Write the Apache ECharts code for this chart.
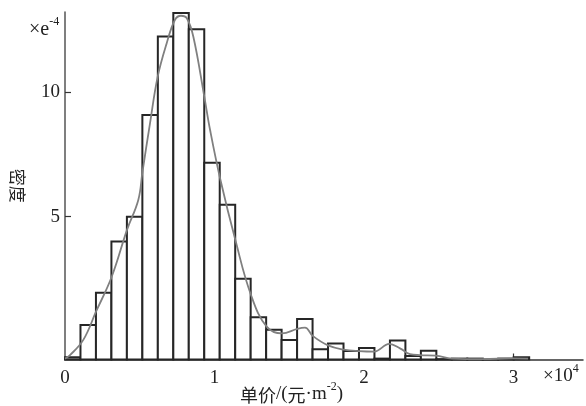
<!DOCTYPE html>
<html>
<head>
<meta charset="utf-8">
<script src="https://cdn.jsdelivr.net/npm/echarts@6/dist/echarts.min.js"></script>
<style>html,body{margin:0;padding:0;background:#fff}#c{width:586px;height:406px}</style>
</head>
<body>
<div id="c"></div>
<script>
// Histogram bins (unit price, yuan/m^2)
var binLeft  = [0,1035,2070,3105,4140,5175,6210,7245,8280,9315,10350,11385,12420,13455,14490,15525,16560,17595,18630,19665,20700,21735,22770,23805,24840,25875,26910,27945,28980,30015];
var binRight = [1035,2070,3105,4140,5175,6210,7245,8280,9315,10350,11385,12420,13455,14490,15525,16560,17595,18630,19665,20700,21735,22770,23805,24840,25875,26910,27945,28980,30015,31050];
// Bar tops read against the y axis (×e-4)
var barTop = [-0.64,0.66,1.95,4.00,4.99,9.07,12.22,13.16,12.51,7.16,5.48,2.51,0.97,0.47,0.06,0.90,-0.32,-0.08,-0.39,-0.27,-0.69,0.04,-0.59,-0.38,-0.71,-0.69,-0.69,-0.73,-0.69,-0.64];
// Density curve
var curveX = [0,334,1224,2074,3124,4147,4903,5171,5686,6201,6803,7358,7759,8140,8582,9318,9699,10368,11418,12441,13492,14515,15538,16054,16569,17592,18643,19666,20689,21692,22408,23077,23746,24816,25866,27940,29967,30970];
var curveY = [-0.69,-0.55,0.06,1.19,2.59,4.47,5.67,6.74,8.74,10.61,11.95,12.89,13.05,12.96,12.22,9.81,8.49,6.55,4.01,1.86,0.59,0.32,0.50,0.55,0.22,-0.16,-0.33,-0.39,-0.41,-0.10,-0.28,-0.51,-0.55,-0.57,-0.69,-0.71,-0.68,-0.69];
var xTicks = [0,10000,20000,30000];
var yTicks = [5,10];

var Y_MIN = -0.726, Y_MAX = 13.2, X_MIN = 0, X_MAX = 34650;

var barData = binLeft.map(function(l,i){ return [l, binRight[i], barTop[i]]; });
var curveData = curveX.map(function(x,i){ return [x, curveY[i]]; });

var serif = '"Liberation Serif","DejaVu Serif",serif';
var cjk = '"Noto Sans CJK SC"';
var chart = echarts.init(document.getElementById('c'), null, {renderer:'canvas'});
chart.setOption({
  animation:false,
  backgroundColor:'#fff',
  grid:{left:65, right:3, top:12, bottom:46.5, containLabel:false, outerBoundsMode:'none'},
  xAxis:{
    type:'value', min:X_MIN, max:X_MAX,
    axisLine:{show:true, onZero:false, lineStyle:{color:'#333', width:1.5}},
    axisTick:{show:true, inside:true, length:6, customValues:[10000,20000,30000], lineStyle:{color:'#333', width:1.2}},
    axisLabel:{customValues:xTicks, margin:9, color:'#222', fontFamily:serif, fontSize:19,
      formatter:function(v){ return String(v/10000); }},
    splitLine:{show:false}
  },
  yAxis:{
    type:'value', min:Y_MIN, max:Y_MAX,
    name:'密度', nameLocation:'middle', nameRotate:-90, nameGap:39,
    nameTextStyle:{fontFamily:cjk, fontSize:17, color:'#222'},
    axisLine:{show:true, lineStyle:{color:'#555', width:1.5}},
    axisTick:{show:true, inside:true, length:6, customValues:yTicks, lineStyle:{color:'#333', width:1.2}},
    axisLabel:{customValues:yTicks, margin:5, color:'#222', fontFamily:serif, fontSize:19},
    splitLine:{show:false}
  },
  graphic:[
    {type:'text', left:29, top:16, style:{
      text:'{a|×e}{s|-4}', rich:{
        a:{fontFamily:serif, fontSize:20, fill:'#222', lineHeight:24, verticalAlign:'bottom'},
        s:{fontFamily:serif, fontSize:12, fill:'#222', verticalAlign:'top', lineHeight:24}
      }}},
    {type:'text', left:543, top:363, style:{
      text:'{a|×10}{s|4}', rich:{
        a:{fontFamily:serif, fontSize:19, fill:'#222', lineHeight:23, verticalAlign:'bottom'},
        s:{fontFamily:serif, fontSize:12, fill:'#222', verticalAlign:'top', lineHeight:23}
      }}},
    {type:'text', left:240, top:381, style:{
      text:'{c|单价}{a|/(}{c|元}{a|·m}{s|-2}{a|)}', rich:{
        c:{fontFamily:cjk, fontSize:18, fill:'#222', lineHeight:23, verticalAlign:'bottom'},
        a:{fontFamily:serif, fontSize:19, fill:'#222', lineHeight:23, verticalAlign:'bottom'},
        s:{fontFamily:serif, fontSize:12, fill:'#222', verticalAlign:'top', lineHeight:23}
      }}}
  ],
  series:[
    {
      type:'custom', data:barData, clip:false, z:2,
      encode:{x:[0,1], y:2},
      renderItem:function(params, api){
        var p0 = api.coord([api.value(0), Y_MIN]);
        var p1 = api.coord([api.value(1), api.value(2)]);
        return {type:'rect', shape:{x:p0[0], y:p1[1], width:p1[0]-p0[0], height:p0[1]-p1[1]},
          style:{fill:'#fff', stroke:'#262626', lineWidth:2}};
      }
    },
    {
      type:'line', data:curveData, smooth:0.4, showSymbol:false, z:3,
      lineStyle:{color:'#808080', width:1.8}, itemStyle:{color:'#808080'}
    }
  ]
});
</script>
</body>
</html>
